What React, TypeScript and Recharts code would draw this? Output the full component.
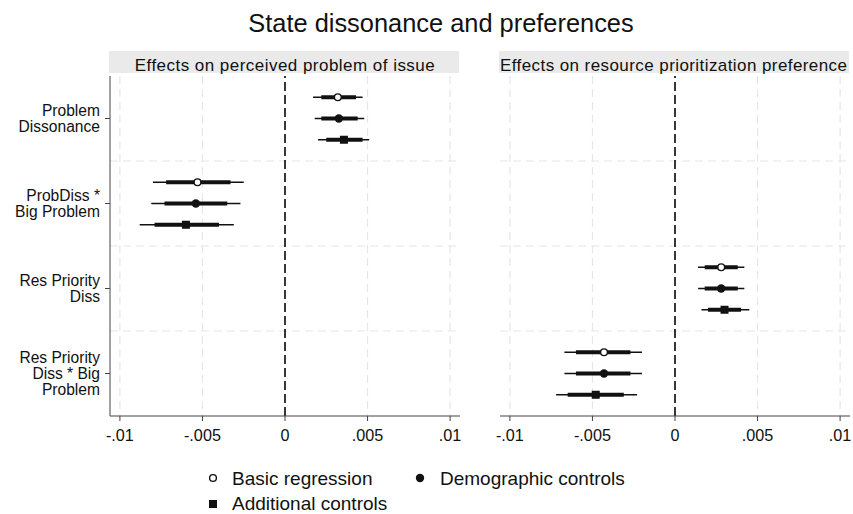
import React from 'react';
import { ScatterChart, Scatter, XAxis, YAxis, CartesianGrid, ReferenceLine, ErrorBar } from 'recharts';

const categories = [
  ['Problem', 'Dissonance'],
  ['ProbDiss *', 'Big Problem'],
  ['Res Priority', 'Diss'],
  ['Res Priority', 'Diss * Big', 'Problem'],
];
const models = ['Basic regression', 'Demographic controls', 'Additional controls'];
const xTicks = [-0.01, -0.005, 0, 0.005, 0.01];
const xTickLabels = ['-.01', '-.005', '0', '.005', '.01'];
const panelTitles = ['Effects on perceived problem of issue', 'Effects on resource prioritization preference'];

// left panel: categories 0 and 1 (rows = model, cols = category)
const probCats = [0, 1];
const probEst = [[0.0032, -0.0053], [0.00326, -0.0054], [0.00357, -0.006]];
const probLo95 = [[0.0017, -0.008], [0.0018, -0.0081], [0.002, -0.0088]];
const probHi95 = [[0.0047, -0.0025], [0.0048, -0.0027], [0.0051, -0.0031]];
const probLo90 = [[0.0022, -0.0072], [0.0022, -0.0073], [0.0025, -0.0079]];
const probHi90 = [[0.0043, -0.0033], [0.0044, -0.0035], [0.0047, -0.004]];

// right panel: categories 2 and 3
const resCats = [2, 3];
const resEst = [[0.0028, -0.0043], [0.0028, -0.0043], [0.003, -0.0048]];
const resLo95 = [[0.0014, -0.0067], [0.0014, -0.0067], [0.0016, -0.0072]];
const resHi95 = [[0.0042, -0.002], [0.0042, -0.002], [0.0045, -0.0023]];
const resLo90 = [[0.0018, -0.006], [0.0018, -0.006], [0.002, -0.0065]];
const resHi90 = [[0.0038, -0.0027], [0.0038, -0.0027], [0.004, -0.0031]];

const rowOffset = [-0.25, 0, 0.25];
const FONT = '"Liberation Sans", Arial, sans-serif';
const INK = '#111';

function buildRows(cats: number[], est: number[][], lo95: number[][], hi95: number[][], lo90: number[][], hi90: number[][]) {
  return models.map((_, m) =>
    cats.map((c, i) => ({
      x: est[m][i],
      y: c + rowOffset[m],
      err95: [est[m][i] - lo95[m][i], hi95[m][i] - est[m][i]],
      err90: [est[m][i] - lo90[m][i], hi90[m][i] - est[m][i]],
    }))
  );
}

const probRows = buildRows(probCats, probEst, probLo95, probHi95, probLo90, probHi90);
const resRows = buildRows(resCats, resEst, resLo95, resHi95, resLo90, resHi90);

const OpenCircle = (p: any) => <circle cx={p.cx} cy={p.cy} r={3.4} fill="#fff" stroke={INK} strokeWidth={1.4} />;
const FilledCircle = (p: any) => <circle cx={p.cx} cy={p.cy} r={4.2} fill={INK} />;
const FilledSquare = (p: any) => <rect x={p.cx - 4} y={p.cy - 4} width={8} height={8} fill={INK} />;
const shapes = [OpenCircle, FilledCircle, FilledSquare];

// each line of a category label is its own text element
const CatTick = (props: any) => {
  const { x, y, payload } = props;
  const lines = categories[payload.value];
  const first = y - ((lines.length - 1) * 16) / 2 + 5.6;
  return (
    <g>
      {lines.map((l, i) => (
        <text key={i} x={x} y={first + i * 16} textAnchor="end" fontSize={15.6} fill={INK} fontFamily={FONT}>
          {l}
        </text>
      ))}
    </g>
  );
};

function Panel({ rows, showY, left, width, margin }: any) {
  return (
    <div style={{ position: 'absolute', left, top: 0 }}>
      <ScatterChart width={width} height={450} margin={margin}>
        <CartesianGrid
          stroke="#e6e6e6"
          strokeWidth={1.2}
          strokeDasharray="8 5"
          horizontalValues={[0.5, 1.5, 2.5]}
          verticalValues={[-0.01, -0.005, 0.005, 0.01]}
        />
        <XAxis
          type="number"
          dataKey="x"
          domain={[-0.0106, 0.0106]}
          allowDataOverflow
          ticks={xTicks}
          tickFormatter={(v: number) => xTickLabels[xTicks.indexOf(v)] ?? String(v)}
          height={34}
          tickSize={5}
          tickMargin={8}
          stroke="#444"
          tick={{ fill: INK, fontSize: 16.2, fontFamily: FONT }}
        />
        <YAxis
          type="number"
          dataKey="y"
          domain={[-0.5, 3.5]}
          reversed
          allowDataOverflow
          ticks={[0, 1, 2, 3]}
          hide={!showY}
          width={110}
          tickSize={5}
          tickMargin={5}
          stroke="#444"
          tick={<CatTick />}
          interval={0}
        />
        <ReferenceLine x={0} stroke="#222" strokeWidth={1.8} strokeDasharray="9 4" />
        {rows.map((data: any, m: number) => (
          <Scatter key={models[m]} name={models[m]} data={data} shape={shapes[m]} isAnimationActive={false}>
            <ErrorBar dataKey="err95" direction="x" width={0} stroke={INK} strokeWidth={1.4} isAnimationActive={false} />
            <ErrorBar dataKey="err90" direction="x" width={0} stroke={INK} strokeWidth={3.8} isAnimationActive={false} />
          </Scatter>
        ))}
      </ScatterChart>
    </div>
  );
}

export default function App() {
  return (
    <div style={{ position: 'absolute', left: 0, top: 0, width: 853, height: 514, overflow: 'hidden', background: '#fff' }}>
      <svg width={853} height={514} style={{ position: 'absolute', left: 0, top: 0 }}>
        <text x={441} y={31.5} textAnchor="middle" fontSize={25.4} fill={INK} fontFamily={FONT}>
          State dissonance and preferences
        </text>
        <rect x={109} y={51} width={350} height={22} fill="#eaeaea" />
        <rect x={499} y={51} width={350} height={22} fill="#eaeaea" />
        <text x={284.7} y={71} textAnchor="middle" fontSize={17} fill={INK} fontFamily={FONT} textLength={300} lengthAdjust="spacing">
          {panelTitles[0]}
        </text>
        <text x={673.5} y={71} textAnchor="middle" fontSize={17} fill={INK} fontFamily={FONT} textLength={347} lengthAdjust="spacing">
          {panelTitles[1]}
        </text>
        <circle cx={213} cy={478} r={3.4} fill="#fff" stroke={INK} strokeWidth={1.4} />
        <text x={232} y={484.5} fontSize={19} fill={INK} fontFamily={FONT}>{models[0]}</text>
        <circle cx={420} cy={478} r={4.2} fill={INK} />
        <text x={440} y={484.5} fontSize={19} fill={INK} fontFamily={FONT}>{models[1]}</text>
        <rect x={209} y={500} width={8} height={8} fill={INK} />
        <text x={232} y={509.5} fontSize={19} fill={INK} fontFamily={FONT}>{models[2]}</text>
      </svg>
      <Panel rows={probRows} showY left={0} width={470} margin={{ top: 76, right: 10, bottom: 0, left: 0 }} />
      <Panel rows={resRows} showY={false} left={490} width={363} margin={{ top: 76, right: 3, bottom: 0, left: 10 }} />
    </div>
  );
}
